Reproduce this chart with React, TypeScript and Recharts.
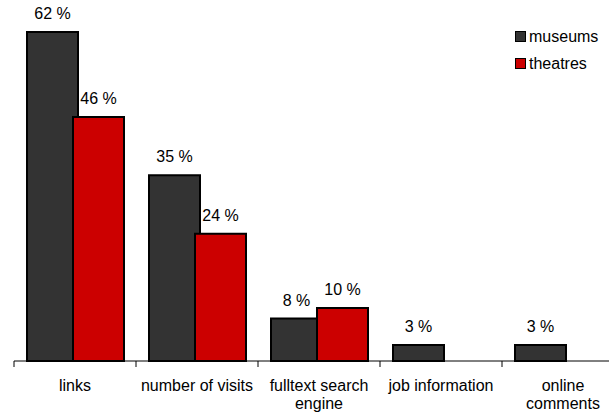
import React from "react";
import { BarChart, Bar, XAxis, YAxis, LabelList } from "recharts";

// "\n" marks where the reference wraps a category label
const categories = [
  "links",
  "number of visits",
  "fulltext search\nengine",
  "job information",
  "online\ncomments",
];
const museums = [62, 35, 8, 3, 3];
const theatres: (number | null)[] = [46, 24, 10, null, null];

const SERIES = [
  { key: "museums", name: "museums", color: "#333333" },
  { key: "theatres", name: "theatres", color: "#CC0000" },
];

const FONT = '"Liberation Sans", Arial, Helvetica, sans-serif';

const data = categories.map((name, i) => ({
  name,
  museums: museums[i],
  theatres: theatres[i],
}));

// label under axis plus a tick mark at the left edge of each category
const CategoryTick = (props: any) => {
  const { x, y, payload } = props;
  const half = payload.offset || 0;
  const lines = String(payload.value).split("\n");
  return (
    <g>
      <line x1={x - half} x2={x - half} y1={y} y2={y + 6} stroke="#000" strokeWidth={1} />
      <text
        x={x}
        y={y + 30}
        textAnchor="middle"
        fontSize={16}
        fontFamily={FONT}
        fill="#000"
      >
        {lines.map((l, i) => (
          <tspan key={i} x={x} dy={i === 0 ? 0 : 18}>
            {l}
          </tspan>
        ))}
      </text>
    </g>
  );
};

const LegendBox = () => (
  <div
    style={{
      position: "absolute",
      left: 515,
      top: 23,
      fontFamily: FONT,
      fontSize: 16,
      color: "#000",
    }}
  >
    {SERIES.map((s) => (
      <div
        key={s.key}
        style={{ display: "flex", alignItems: "center", height: 27, lineHeight: "27px" }}
      >
        <span
          style={{
            display: "inline-block",
            width: 9,
            height: 9,
            background: s.color,
            border: "1.5px solid #000",
            marginRight: 3,
          }}
        />
        <span>{s.name}</span>
      </div>
    ))}
  </div>
);

const fmt = (v: any) => (v == null ? "" : `${v} %`);

export default function App() {
  return (
    <div
      style={{
        position: "absolute",
        left: 0,
        top: 0,
        width: 609,
        height: 415,
        overflow: "hidden",
        background: "#fff",
      }}
    >
      <BarChart
        width={630}
        height={415}
        data={data}
        margin={{ top: 32, right: 6, bottom: 0, left: 14 }}
        barSize={51}
        barGap={-5}
      >
        <XAxis
          dataKey="name"
          axisLine={{ stroke: "#000", strokeWidth: 1 }}
          tickLine={false}
          tickSize={0}
          tickMargin={0}
          tick={<CategoryTick />}
          interval={0}
          height={54}
        />
        <YAxis hide domain={[0, 62]} />
        {SERIES.map((s) => (
          <Bar
            key={s.key}
            dataKey={s.key}
            name={s.name}
            fill={s.color}
            stroke="#000"
            strokeWidth={2}
            isAnimationActive={false}
          >
            <LabelList
              dataKey={s.key}
              position="top"
              offset={13}
              formatter={fmt}
              style={{ fontFamily: FONT, fontSize: 16, fill: "#000" }}
            />
          </Bar>
        ))}
      </BarChart>
      <LegendBox />
    </div>
  );
}
